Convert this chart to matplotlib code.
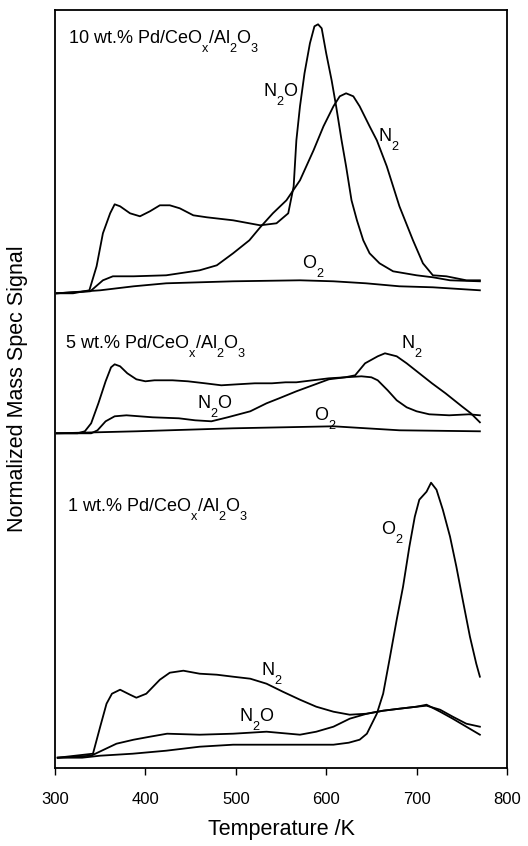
import matplotlib
matplotlib.use("Agg")
import matplotlib.pyplot as plt
import matplotlib._mathtext as mathtext_impl

plt.rcParams["font.family"] = ["Liberation Sans", "DejaVu Sans"]
plt.rcParams["mathtext.fontset"] = "custom"
plt.rcParams["mathtext.rm"] = "Liberation Sans"
plt.rcParams["mathtext.default"] = "regular"
# drop subscripts fully below the baseline, typewriter-chemistry style
mathtext_impl.FontConstantsBase.sub1 = 0.95

# ---- 10 wt.% Pd/CeOx/Al2O3 ----
t_10_n2o = [302, 320, 338, 346, 353, 361, 366, 372, 383, 394, 405, 416, 427, 438, 453, 468, 497, 527, 545,
            558, 564, 567, 571, 576, 582, 587, 591, 595, 600, 606, 611, 617, 622, 628, 634, 641, 648, 659,
            674, 700, 718, 737, 770]
s_10_n2o = [0.00, 0.00, 0.03, 0.27, 0.60, 0.80, 0.89, 0.87, 0.80, 0.77, 0.82, 0.88, 0.88, 0.85, 0.78, 0.76,
            0.73, 0.68, 0.70, 0.80, 1.07, 1.53, 1.87, 2.20, 2.50, 2.67, 2.69, 2.65, 2.40, 2.13, 1.87, 1.53,
            1.27, 0.93, 0.73, 0.53, 0.40, 0.30, 0.22, 0.18, 0.16, 0.13, 0.12]
t_10_n2 = [302, 339, 353, 364, 387, 423, 460, 479, 497, 515, 527, 541, 556, 571, 586, 597, 608, 615, 622,
           630, 637, 648, 656, 667, 681, 696, 707, 718, 733, 755, 770]
s_10_n2 = [0.00, 0.02, 0.13, 0.17, 0.17, 0.18, 0.23, 0.28, 0.40, 0.53, 0.66, 0.80, 0.93, 1.13, 1.43, 1.67,
           1.87, 1.97, 2.00, 1.97, 1.87, 1.67, 1.53, 1.27, 0.87, 0.53, 0.30, 0.18, 0.17, 0.13, 0.13]
t_10_o2 = [302, 350, 387, 423, 497, 571, 608, 644, 681, 718, 770]
s_10_o2 = [0.00, 0.03, 0.07, 0.10, 0.12, 0.13, 0.12, 0.10, 0.07, 0.06, 0.03]

# ---- 5 wt.% Pd/CeOx/Al2O3 ----
t_5_n2o = [302, 325, 333, 340, 348, 356, 362, 366, 372, 380, 390, 400, 410, 430, 447, 466, 484, 502, 521,
           540, 555, 567, 585, 603, 621, 639, 650, 657, 668, 678, 689, 700, 714, 736, 758, 770]
s_5_n2o = [0.00, 0.00, 0.02, 0.10, 0.30, 0.52, 0.66, 0.69, 0.67, 0.60, 0.54, 0.52, 0.53, 0.53, 0.52, 0.50,
           0.48, 0.49, 0.50, 0.50, 0.51, 0.51, 0.53, 0.55, 0.56, 0.57, 0.56, 0.53, 0.43, 0.33, 0.26, 0.22,
           0.19, 0.18, 0.19, 0.18]
t_5_n2 = [302, 340, 347, 356, 366, 379, 408, 437, 455, 473, 491, 516, 534, 548, 567, 585, 603, 621, 632,
          643, 657, 665, 678, 689, 703, 717, 732, 750, 760, 770]
s_5_n2 = [0.00, 0.00, 0.03, 0.12, 0.17, 0.18, 0.16, 0.15, 0.13, 0.12, 0.16, 0.22, 0.30, 0.35, 0.42, 0.48,
          0.54, 0.56, 0.58, 0.70, 0.77, 0.80, 0.77, 0.70, 0.60, 0.50, 0.40, 0.27, 0.20, 0.11]
t_5_o2 = [302, 390, 497, 608, 681, 770]
s_5_o2 = [0.00, 0.02, 0.05, 0.07, 0.03, 0.02]

# ---- 1 wt.% Pd/CeOx/Al2O3 ----
t_1_o2 = [303, 330, 350, 386, 423, 460, 497, 534, 571, 608, 625, 637, 645, 656, 663, 670, 678, 685, 692,
          698, 703, 711, 716, 722, 729, 737, 744, 751, 759, 766, 770]
s_1_o2 = [0.00, 0.00, 0.02, 0.04, 0.07, 0.11, 0.13, 0.13, 0.13, 0.13, 0.15, 0.18, 0.24, 0.44, 0.64, 0.98,
          1.38, 1.71, 2.11, 2.41, 2.58, 2.66, 2.75, 2.68, 2.48, 2.21, 1.91, 1.58, 1.21, 0.94, 0.81]
t_1_n2 = [303, 342, 350, 357, 363, 372, 383, 390, 401, 416, 427, 442, 460, 479, 497, 516, 534, 552, 571,
          589, 608, 626, 645, 663, 681, 700, 711, 726, 740, 755, 770]
s_1_n2 = [0.00, 0.04, 0.31, 0.54, 0.64, 0.68, 0.63, 0.60, 0.64, 0.78, 0.85, 0.87, 0.84, 0.83, 0.81, 0.79,
          0.74, 0.66, 0.58, 0.51, 0.46, 0.43, 0.44, 0.47, 0.49, 0.51, 0.52, 0.48, 0.41, 0.34, 0.31]
t_1_n2o = [303, 340, 368, 387, 405, 424, 460, 497, 534, 571, 589, 608, 626, 645, 663, 681, 700, 711, 726,
           740, 755, 770]
s_1_n2o = [0.00, 0.02, 0.14, 0.18, 0.21, 0.24, 0.23, 0.24, 0.26, 0.23, 0.26, 0.31, 0.39, 0.44, 0.47, 0.49,
           0.51, 0.53, 0.46, 0.39, 0.31, 0.23]

# vertical offsets of the three stacked sample groups
offsets = {"10": 4.747, "5": 3.347, "1": 0.103}

sample_titles = {
    "10": r"10 wt.% Pd/CeO$_x$/Al$_2$O$_3$",
    "5": r"5 wt.% Pd/CeO$_x$/Al$_2$O$_3$",
    "1": r"1 wt.% Pd/CeO$_x$/Al$_2$O$_3$",
}

traces = {
    "10": [(t_10_n2o, s_10_n2o), (t_10_n2, s_10_n2), (t_10_o2, s_10_o2)],
    "5": [(t_5_n2o, s_5_n2o), (t_5_n2, s_5_n2), (t_5_o2, s_5_o2)],
    "1": [(t_1_n2o, s_1_n2o), (t_1_n2, s_1_n2), (t_1_o2, s_1_o2)],
}

# label placement (temperature, height above the group baseline)
title_pos = {"10": (314, 2.50), "5": (311, 0.85), "1": (313, 2.46)}
gas_labels = {
    "10": [(r"N$_2$O", 530, 1.966), (r"N$_2$", 657, 1.516), (r"O$_2$", 573, 0.25)],
    "5": [(r"N$_2$", 683, 0.85), (r"N$_2$O", 457, 0.25), (r"O$_2$", 586, 0.133)],
    "1": [(r"O$_2$", 661, 2.227), (r"N$_2$", 528, 0.827), (r"N$_2$O", 503, 0.36)],
}

fig = plt.figure(figsize=(5.28, 8.46), dpi=100)
ax = fig.add_axes([55 / 528, 1 - 768 / 846, 452 / 528, 758 / 846])

for key, group in traces.items():
    off = offsets[key]
    for t, s in group:
        ax.plot(t, [v + off for v in s], color="black", lw=1.3)
    tx, ty = title_pos[key]
    ax.text(tx, ty + off, sample_titles[key], fontsize=13, ha="left", va="baseline")
    for txt, lx, ly in gas_labels[key]:
        ax.text(lx, ly + off, txt, fontsize=13, ha="left", va="baseline")

ax.set_xlim(300, 800)
ax.set_ylim(0, 7.58)
ax.set_xticks([300, 400, 500, 600, 700, 800])
ax.set_yticks([])
ax.tick_params(axis="x", direction="out", length=5, width=1.0, labelsize=12, pad=12)
for sp in ax.spines.values():
    sp.set_linewidth(1.3)

ax.set_xlabel("Temperature /K", fontsize=15.5, labelpad=9)
ax.set_ylabel("Normalized Mass Spec Signal", fontsize=15.5)
ax.yaxis.set_label_coords(-0.06, 0.5)

fig.savefig("out.png", dpi=100)
